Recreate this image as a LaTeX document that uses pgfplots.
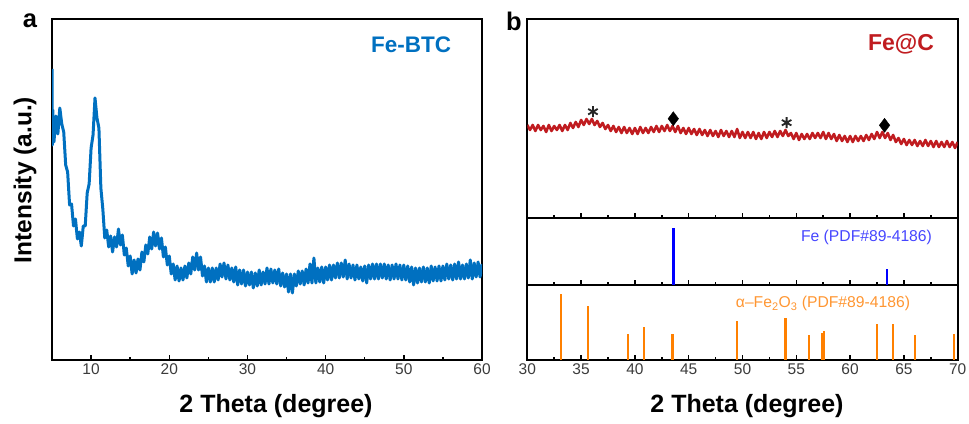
\documentclass[border=0pt]{standalone}
\usepackage{fontspec}
\setmainfont{Liberation Sans}
\usepackage{pgfplots}
\pgfplotsset{compat=1.18}

\definecolor{febtc}{RGB}{0,112,192}
\definecolor{fec}{RGB}{192,28,32}
\definecolor{feref}{RGB}{0,0,255}
\definecolor{fetext}{RGB}{70,70,255}
\definecolor{oxide}{RGB}{255,128,0}
\definecolor{oxtext}{RGB}{255,150,50}
\definecolor{ticktext}{RGB}{60,60,60}

\pgfplotsset{
  xrd/.style={
    scale only axis,
    anchor=south west,
    axis line style={line width=1.8pt},
    ytick=\empty,
    xtick pos=bottom,
    tick align=inside,
    major tick length=5pt,
    minor tick length=3pt,
    tick style={black, line width=1.5pt},
    tick label style={font=\fontsize{15.5}{18}\selectfont, text=ticktext},
    /pgf/number format/assume math mode=true,
  }
}

\begin{document}
\begin{tikzpicture}[x=1pt,y=1pt]
\useasboundingbox (0,0) rectangle (969,423);

% (a) Fe-BTC
\begin{axis}[xrd, at={(52pt,63pt)}, width=430pt, height=341pt,
  xmin=5, xmax=60, ymin=0, ymax=341,
  xtick={10,20,...,60}, minor xtick={15,25,...,55}]
\addplot[febtc, line width=3pt, line join=round] table[row sep=\\] {
5.00 291\\ 5.05 215\\ 5.10 250\\ 5.25 218\\ 5.50 244\\ 5.75 226\\ 6.00 252\\ 6.25 236\\
6.50 228\\ 6.75 195\\ 7.00 188\\ 7.25 155\\ 7.50 156\\ 7.75 134\\ 8.00 141\\ 8.25 121\\
8.50 128\\ 8.75 114\\ 9.00 134\\ 9.25 134\\ 9.50 167\\ 9.75 176\\ 10.00 212\\ 10.25 225\\
10.50 262\\ 10.75 242\\ 11.00 232\\ 11.25 172\\ 11.50 151\\ 11.75 122\\ 12.00 130\\ 12.25 113\\
12.50 124\\ 12.75 108\\ 13.00 123\\ 13.25 113\\ 13.50 131\\ 13.75 115\\ 14.00 125\\ 14.25 105\\
14.50 112\\ 14.75 94\\ 15.00 104\\ 15.25 86\\ 15.50 100\\ 15.75 87\\ 16.00 101\\ 16.25 90\\
16.50 108\\ 16.75 98\\ 17.00 115\\ 17.25 106\\ 17.50 123\\ 17.75 111\\ 18.00 128\\ 18.25 114\\
18.50 127\\ 18.75 111\\ 19.00 122\\ 19.25 103\\ 19.50 113\\ 19.75 95\\ 20.00 104\\ 20.25 86\\
20.50 96\\ 20.75 80\\ 21.00 94\\ 21.25 79\\ 21.50 92\\ 21.75 80\\ 22.00 94\\ 22.25 82\\
22.50 97\\ 22.75 86\\ 23.00 103\\ 23.25 90\\ 23.50 107\\ 23.75 90\\ 24.00 103\\ 24.25 84\\
24.50 94\\ 24.75 78\\ 25.00 92\\ 25.25 78\\ 25.50 92\\ 25.75 78\\ 26.00 92\\ 26.25 80\\
26.50 96\\ 26.75 83\\ 27.00 97\\ 27.25 81\\ 27.50 95\\ 27.75 80\\ 28.00 92\\ 28.25 78\\
28.50 93\\ 28.75 75\\ 29.00 90\\ 29.25 76\\ 29.50 90\\ 29.75 74\\ 30.00 88\\ 30.25 75\\
30.50 88\\ 30.75 72\\ 31.00 87\\ 31.25 74\\ 31.50 90\\ 31.75 75\\ 32.00 88\\ 32.25 76\\
32.50 92\\ 32.75 76\\ 33.00 91\\ 33.25 77\\ 33.50 90\\ 33.75 76\\ 34.00 91\\ 34.25 74\\
34.50 87\\ 34.75 73\\ 35.00 86\\ 35.25 68\\ 35.50 86\\ 35.75 67\\ 36.00 86\\ 36.25 74\\
36.50 89\\ 36.75 76\\ 37.00 89\\ 37.25 75\\ 37.50 91\\ 37.75 77\\ 38.00 96\\ 38.25 77\\
38.50 102\\ 38.75 77\\ 39.00 92\\ 39.25 78\\ 39.50 93\\ 39.75 77\\ 40.00 93\\ 40.25 80\\
40.50 95\\ 40.75 80\\ 41.00 95\\ 41.25 82\\ 41.50 97\\ 41.75 82\\ 42.00 97\\ 42.25 83\\
42.50 100\\ 42.75 81\\ 43.00 96\\ 43.25 82\\ 43.50 95\\ 43.75 80\\ 44.00 95\\ 44.25 81\\
44.50 93\\ 44.75 79\\ 45.00 94\\ 45.25 77\\ 45.50 95\\ 45.75 81\\ 46.00 96\\ 46.25 81\\
46.50 96\\ 46.75 81\\ 47.00 96\\ 47.25 82\\ 47.50 96\\ 47.75 81\\ 48.00 95\\ 48.25 80\\
48.50 95\\ 48.75 81\\ 49.00 96\\ 49.25 81\\ 49.50 95\\ 49.75 80\\ 50.00 95\\ 50.25 80\\
50.50 94\\ 50.75 78\\ 51.00 93\\ 51.25 75\\ 51.50 92\\ 51.75 77\\ 52.00 92\\ 52.25 78\\
52.50 93\\ 52.75 78\\ 53.00 92\\ 53.25 77\\ 53.50 94\\ 53.75 79\\ 54.00 93\\ 54.25 79\\
54.50 94\\ 54.75 79\\ 55.00 94\\ 55.25 80\\ 55.50 96\\ 55.75 81\\ 56.00 95\\ 56.25 80\\
56.50 96\\ 56.75 81\\ 57.00 98\\ 57.25 81\\ 57.50 95\\ 57.75 81\\ 58.00 96\\ 58.25 82\\
58.50 100\\ 58.75 81\\ 59.00 97\\ 59.25 83\\ 59.50 98\\ 59.75 83\\ 60.00 96\\
};
\end{axis}

% (b) bottom: alpha-Fe2O3 reference
\begin{axis}[xrd, at={(527.3pt,63pt)}, width=430.4pt, height=75pt,
  xmin=30, xmax=70, ymin=0, ymax=75,
  xtick={30,35,...,70}, minor xtick={32.5,37.5,...,67.5}]
\addplot[oxide, ycomb, line width=2.2pt] coordinates {
(33.16,66) (35.64,54.3) (39.33,26) (40.88,32.6) (43.5,26) (49.49,39.3) (54.0,41.6)
(56.15,25) (57.42,26.6) (57.58,28.6) (62.47,36) (64.0,36) (66.03,25) (69.63,26)
};
\end{axis}

% (b) middle: Fe reference
\begin{axis}[xrd, at={(527.3pt,138pt)}, width=430.4pt, height=67pt,
  xmin=30, xmax=70, ymin=0, ymax=67,
  xtick={30,35,...,70}, minor xtick={32.5,37.5,...,67.5}, xticklabels={}]
\addplot[feref, ycomb, line width=2.4pt] coordinates {(43.6,57) (63.43,16)};
\end{axis}

% (b) top: Fe@C pattern
\begin{axis}[xrd, at={(527.3pt,205pt)}, width=430.4pt, height=199pt,
  xmin=30, xmax=70, ymin=0, ymax=199,
  xtick={30,35,...,70}, minor xtick={32.5,37.5,...,67.5}, xticklabels={}]
\addplot[fec, line width=2.6pt, line join=round] table[row sep=\\] {
30.00 93\\ 30.25 88\\ 30.50 93\\ 30.75 87\\ 31.00 93\\ 31.25 88\\ 31.50 92\\ 31.75 86\\
32.00 93\\ 32.25 87\\ 32.50 92\\ 32.75 88\\ 33.00 93\\ 33.25 87\\ 33.50 93\\ 33.75 88\\
34.00 95\\ 34.25 90\\ 34.50 96\\ 34.75 91\\ 35.00 98\\ 35.25 93\\ 35.50 99\\ 35.75 94\\
36.00 99\\ 36.25 93\\ 36.50 97\\ 36.75 91\\ 37.00 95\\ 37.25 89\\ 37.50 93\\ 37.75 87\\
38.00 92\\ 38.25 86\\ 38.50 91\\ 38.75 85\\ 39.00 91\\ 39.25 85\\ 39.50 90\\ 39.75 84\\
40.00 90\\ 40.25 84\\ 40.50 91\\ 40.75 85\\ 41.00 90\\ 41.25 85\\ 41.50 91\\ 41.75 86\\
42.00 92\\ 42.25 86\\ 42.50 92\\ 42.75 87\\ 43.00 93\\ 43.25 87\\ 43.50 92\\ 43.75 86\\
44.00 92\\ 44.25 85\\ 44.50 90\\ 44.75 84\\ 45.00 90\\ 45.25 84\\ 45.50 89\\ 45.75 83\\
46.00 89\\ 46.25 83\\ 46.50 88\\ 46.75 82\\ 47.00 88\\ 47.25 82\\ 47.50 87\\ 47.75 81\\
48.00 88\\ 48.25 82\\ 48.50 87\\ 48.75 81\\ 49.00 87\\ 49.25 81\\ 49.50 89\\ 49.75 80\\
50.00 86\\ 50.25 80\\ 50.50 86\\ 50.75 80\\ 51.00 86\\ 51.25 79\\ 51.50 85\\ 51.75 79\\
52.00 86\\ 52.25 80\\ 52.50 86\\ 52.75 81\\ 53.00 87\\ 53.25 81\\ 53.50 87\\ 53.75 82\\
54.00 88\\ 54.25 82\\ 54.50 85\\ 54.75 79\\ 55.00 85\\ 55.25 78\\ 55.50 84\\ 55.75 79\\
56.00 84\\ 56.25 79\\ 56.50 85\\ 56.75 80\\ 57.00 85\\ 57.25 80\\ 57.50 86\\ 57.75 79\\
58.00 85\\ 58.25 79\\ 58.50 84\\ 58.75 77\\ 59.00 83\\ 59.25 77\\ 59.50 82\\ 59.75 76\\
60.00 82\\ 60.25 76\\ 60.50 82\\ 60.75 77\\ 61.00 82\\ 61.25 77\\ 61.50 83\\ 61.75 78\\
62.00 84\\ 62.25 79\\ 62.50 86\\ 62.75 80\\ 63.00 86\\ 63.25 80\\ 63.50 85\\ 63.75 78\\
64.00 83\\ 64.25 76\\ 64.50 80\\ 64.75 74\\ 65.00 79\\ 65.25 73\\ 65.50 78\\ 65.75 73\\
66.00 78\\ 66.25 72\\ 66.50 77\\ 66.75 72\\ 67.00 78\\ 67.25 72\\ 67.50 77\\ 67.75 71\\
68.00 77\\ 68.25 71\\ 68.50 76\\ 68.75 71\\ 69.00 77\\ 69.25 71\\ 69.50 76\\ 69.75 70\\
70.00 76\\
};
% peak markers: carbon (*) and Fe (diamond)
\addplot[only marks, mark=asterisk, mark size=5.5pt, mark options={line width=1.8pt}, color=black!85]
  coordinates {(36.1,106.3) (54.1,95.3)};
\addplot[only marks, mark=diamond*, mark size=7pt, color=black]
  coordinates {(43.57,99.3) (63.2,92.7)};
\end{axis}

% labels
\node[anchor=base, font=\fontsize{25.5}{30}\selectfont\bfseries] at (30,395) {a};
\node[anchor=base, font=\fontsize{25.5}{30}\selectfont\bfseries] at (514,392) {b};
\node[anchor=base, font=\fontsize{25}{30}\selectfont\bfseries] at (276,10) {2 Theta (degree)};
\node[anchor=base, font=\fontsize{25}{30}\selectfont\bfseries] at (747,10) {2 Theta (degree)};
\node[rotate=90, font=\fontsize{24.5}{30}\selectfont\bfseries] at (25,243) {Intensity (a.u.)};
\node[anchor=base, font=\fontsize{22.5}{27}\selectfont\bfseries, text=febtc] at (411,370.3) {Fe-BTC};
\node[anchor=base, font=\fontsize{23}{27}\selectfont\bfseries, text=fec] at (901,372.3) {Fe@C};
\node[anchor=base, font=\fontsize{15.7}{19}\selectfont, text=fetext] at (866.5,181.3) {Fe (PDF\#89-4186)};
\node[anchor=base, font=\fontsize{15.7}{19}\selectfont, text=oxtext] at (823,115.3) {α–Fe\textsubscript{2}O\textsubscript{3} (PDF\#89-4186)};
\end{tikzpicture}
\end{document}
